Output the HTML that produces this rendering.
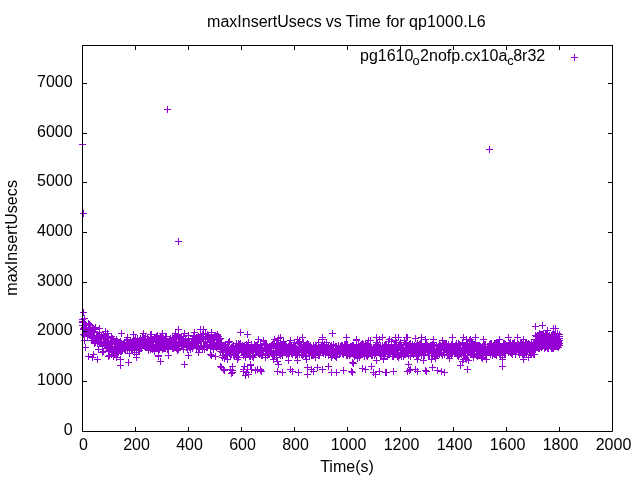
<!DOCTYPE html>
<html><head><meta charset="utf-8"><style>
html,body{margin:0;padding:0;background:#fff;width:640px;height:480px;overflow:hidden}
svg{display:block;will-change:transform}
text{font-family:"Liberation Sans",sans-serif;font-size:16px;fill:#000}
</style></head><body>
<svg width="640" height="480" viewBox="0 0 640 480">
<rect width="640" height="480" fill="#fff"/>
<path d="M79 322.5h7M82.5 319v7M79 319.5h7M82.5 316v7M80 329.5h7M83.5 326v7M80 334.5h7M83.5 331v7M80 328.5h7M83.5 325v7M80 322.5h7M83.5 319v7M81 340.5h7M84.5 337v7M81 327.5h7M84.5 324v7M81 325.5h7M84.5 322v7M81 335.5h7M84.5 332v7M82 333.5h7M85.5 330v7M82 325.5h7M85.5 322v7M82 328.5h7M85.5 325v7M82 324.5h7M85.5 321v7M83 333.5h7M86.5 330v7M83 331.5h7M86.5 328v7M83 325.5h7M86.5 322v7M84 330.5h7M87.5 327v7M84 330.5h7M87.5 327v7M84 336.5h7M87.5 333v7M84 332.5h7M87.5 329v7M85 329.5h7M88.5 326v7M85 334.5h7M88.5 331v7M85 331.5h7M88.5 328v7M85 327.5h7M88.5 324v7M86 324.5h7M89.5 321v7M86 328.5h7M89.5 325v7M86 335.5h7M89.5 332v7M86 329.5h7M89.5 326v7M87 330.5h7M90.5 327v7M87 325.5h7M90.5 322v7M87 333.5h7M90.5 330v7M87 327.5h7M90.5 324v7M88 340.5h7M91.5 337v7M88 330.5h7M91.5 327v7M88 335.5h7M91.5 332v7M89 335.5h7M92.5 332v7M89 331.5h7M92.5 328v7M89 337.5h7M92.5 334v7M89 328.5h7M92.5 325v7M90 338.5h7M93.5 335v7M90 332.5h7M93.5 329v7M90 328.5h7M93.5 325v7M90 340.5h7M93.5 337v7M91 331.5h7M94.5 328v7M91 329.5h7M94.5 326v7M91 343.5h7M94.5 340v7M91 331.5h7M94.5 328v7M92 342.5h7M95.5 339v7M92 341.5h7M95.5 338v7M92 329.5h7M95.5 326v7M93 338.5h7M96.5 335v7M93 336.5h7M96.5 333v7M93 340.5h7M96.5 337v7M93 338.5h7M96.5 335v7M94 338.5h7M97.5 335v7M94 343.5h7M97.5 340v7M94 339.5h7M97.5 336v7M94 336.5h7M97.5 333v7M95 349.5h7M98.5 346v7M95 335.5h7M98.5 332v7M95 341.5h7M98.5 338v7M95 336.5h7M98.5 333v7M96 332.5h7M99.5 329v7M96 342.5h7M99.5 339v7M96 334.5h7M99.5 331v7M96 343.5h7M99.5 340v7M97 338.5h7M100.5 335v7M97 337.5h7M100.5 334v7M97 343.5h7M100.5 340v7M98 339.5h7M101.5 336v7M98 338.5h7M101.5 335v7M98 343.5h7M101.5 340v7M98 335.5h7M101.5 332v7M99 346.5h7M102.5 343v7M99 345.5h7M102.5 342v7M99 352.5h7M102.5 349v7M99 346.5h7M102.5 343v7M100 341.5h7M103.5 338v7M100 334.5h7M103.5 331v7M100 351.5h7M103.5 348v7M100 337.5h7M103.5 334v7M101 345.5h7M104.5 342v7M101 343.5h7M104.5 340v7M101 336.5h7M104.5 333v7M102 331.5h7M105.5 328v7M102 344.5h7M105.5 341v7M102 338.5h7M105.5 335v7M102 342.5h7M105.5 339v7M103 338.5h7M106.5 335v7M103 344.5h7M106.5 341v7M103 341.5h7M106.5 338v7M103 341.5h7M106.5 338v7M104 333.5h7M107.5 330v7M104 345.5h7M107.5 342v7M104 348.5h7M107.5 345v7M104 342.5h7M107.5 339v7M105 340.5h7M108.5 337v7M105 337.5h7M108.5 334v7M105 345.5h7M108.5 342v7M105 350.5h7M108.5 347v7M106 355.5h7M109.5 352v7M106 344.5h7M109.5 341v7M106 349.5h7M109.5 346v7M107 344.5h7M110.5 341v7M107 344.5h7M110.5 341v7M107 349.5h7M110.5 346v7M107 346.5h7M110.5 343v7M108 350.5h7M111.5 347v7M108 354.5h7M111.5 351v7M108 336.5h7M111.5 333v7M108 340.5h7M111.5 337v7M109 344.5h7M112.5 341v7M109 352.5h7M112.5 349v7M109 338.5h7M112.5 335v7M109 344.5h7M112.5 341v7M110 356.5h7M113.5 353v7M110 350.5h7M113.5 347v7M110 339.5h7M113.5 336v7M111 348.5h7M114.5 345v7M111 343.5h7M114.5 340v7M111 352.5h7M114.5 349v7M111 347.5h7M114.5 344v7M112 343.5h7M115.5 340v7M112 353.5h7M115.5 350v7M112 346.5h7M115.5 343v7M112 341.5h7M115.5 338v7M113 349.5h7M116.5 346v7M113 339.5h7M116.5 336v7M113 350.5h7M116.5 347v7M113 349.5h7M116.5 346v7M114 341.5h7M117.5 338v7M114 353.5h7M117.5 350v7M114 342.5h7M117.5 339v7M115 352.5h7M118.5 349v7M115 351.5h7M118.5 348v7M115 344.5h7M118.5 341v7M115 342.5h7M118.5 339v7M116 348.5h7M119.5 345v7M116 342.5h7M119.5 339v7M116 350.5h7M119.5 347v7M116 345.5h7M119.5 342v7M117 341.5h7M120.5 338v7M117 351.5h7M120.5 348v7M117 344.5h7M120.5 341v7M117 341.5h7M120.5 338v7M118 343.5h7M121.5 340v7M118 351.5h7M121.5 348v7M118 346.5h7M121.5 343v7M118 346.5h7M121.5 343v7M119 350.5h7M122.5 347v7M119 348.5h7M122.5 345v7M119 345.5h7M122.5 342v7M120 348.5h7M123.5 345v7M120 345.5h7M123.5 342v7M120 344.5h7M123.5 341v7M120 346.5h7M123.5 343v7M121 344.5h7M124.5 341v7M121 349.5h7M124.5 346v7M121 348.5h7M124.5 345v7M121 342.5h7M124.5 339v7M122 346.5h7M125.5 343v7M122 345.5h7M125.5 342v7M122 349.5h7M125.5 346v7M122 350.5h7M125.5 347v7M123 340.5h7M126.5 337v7M123 347.5h7M126.5 344v7M123 344.5h7M126.5 341v7M124 339.5h7M127.5 336v7M124 350.5h7M127.5 347v7M124 340.5h7M127.5 337v7M124 337.5h7M127.5 334v7M125 343.5h7M128.5 340v7M125 343.5h7M128.5 340v7M125 346.5h7M128.5 343v7M125 345.5h7M128.5 342v7M126 349.5h7M129.5 346v7M126 344.5h7M129.5 341v7M126 342.5h7M129.5 339v7M126 353.5h7M129.5 350v7M127 344.5h7M130.5 341v7M127 341.5h7M130.5 338v7M127 345.5h7M130.5 342v7M127 340.5h7M130.5 337v7M128 350.5h7M131.5 347v7M128 348.5h7M131.5 345v7M128 342.5h7M131.5 339v7M129 348.5h7M132.5 345v7M129 343.5h7M132.5 340v7M129 342.5h7M132.5 339v7M129 345.5h7M132.5 342v7M130 346.5h7M133.5 343v7M130 340.5h7M133.5 337v7M130 345.5h7M133.5 342v7M130 340.5h7M133.5 337v7M131 352.5h7M134.5 349v7M131 342.5h7M134.5 339v7M131 340.5h7M134.5 337v7M131 346.5h7M134.5 343v7M132 338.5h7M135.5 335v7M132 346.5h7M135.5 343v7M132 343.5h7M135.5 340v7M133 350.5h7M136.5 347v7M133 354.5h7M136.5 351v7M133 341.5h7M136.5 338v7M133 349.5h7M136.5 346v7M134 343.5h7M137.5 340v7M134 338.5h7M137.5 335v7M134 339.5h7M137.5 336v7M134 342.5h7M137.5 339v7M135 350.5h7M138.5 347v7M135 343.5h7M138.5 340v7M135 341.5h7M138.5 338v7M135 347.5h7M138.5 344v7M136 341.5h7M139.5 338v7M136 350.5h7M139.5 347v7M136 344.5h7M139.5 341v7M137 341.5h7M140.5 338v7M137 338.5h7M140.5 335v7M137 348.5h7M140.5 345v7M137 342.5h7M140.5 339v7M138 348.5h7M141.5 345v7M138 348.5h7M141.5 345v7M138 340.5h7M141.5 337v7M138 343.5h7M141.5 340v7M139 345.5h7M142.5 342v7M139 337.5h7M142.5 334v7M139 342.5h7M142.5 339v7M139 339.5h7M142.5 336v7M140 333.5h7M143.5 330v7M140 343.5h7M143.5 340v7M140 338.5h7M143.5 335v7M140 344.5h7M143.5 341v7M141 338.5h7M144.5 335v7M141 346.5h7M144.5 343v7M141 344.5h7M144.5 341v7M142 339.5h7M145.5 336v7M142 347.5h7M145.5 344v7M142 344.5h7M145.5 341v7M142 336.5h7M145.5 333v7M143 346.5h7M146.5 343v7M143 342.5h7M146.5 339v7M143 345.5h7M146.5 342v7M143 345.5h7M146.5 342v7M144 339.5h7M147.5 336v7M144 346.5h7M147.5 343v7M144 340.5h7M147.5 337v7M144 338.5h7M147.5 335v7M145 345.5h7M148.5 342v7M145 350.5h7M148.5 347v7M145 350.5h7M148.5 347v7M146 343.5h7M149.5 340v7M146 347.5h7M149.5 344v7M146 347.5h7M149.5 344v7M146 341.5h7M149.5 338v7M147 349.5h7M150.5 346v7M147 343.5h7M150.5 340v7M147 341.5h7M150.5 338v7M147 334.5h7M150.5 331v7M148 337.5h7M151.5 334v7M148 338.5h7M151.5 335v7M148 344.5h7M151.5 341v7M148 334.5h7M151.5 331v7M149 345.5h7M152.5 342v7M149 339.5h7M152.5 336v7M149 341.5h7M152.5 338v7M149 349.5h7M152.5 346v7M150 344.5h7M153.5 341v7M150 347.5h7M153.5 344v7M150 344.5h7M153.5 341v7M151 348.5h7M154.5 345v7M151 347.5h7M154.5 344v7M151 338.5h7M154.5 335v7M151 351.5h7M154.5 348v7M152 341.5h7M155.5 338v7M152 342.5h7M155.5 339v7M152 337.5h7M155.5 334v7M152 346.5h7M155.5 343v7M153 336.5h7M156.5 333v7M153 336.5h7M156.5 333v7M153 340.5h7M156.5 337v7M153 348.5h7M156.5 345v7M154 341.5h7M157.5 338v7M154 335.5h7M157.5 332v7M154 345.5h7M157.5 342v7M155 342.5h7M158.5 339v7M155 355.5h7M158.5 352v7M155 350.5h7M158.5 347v7M155 341.5h7M158.5 338v7M156 338.5h7M159.5 335v7M156 345.5h7M159.5 342v7M156 340.5h7M159.5 337v7M156 349.5h7M159.5 346v7M157 339.5h7M160.5 336v7M157 339.5h7M160.5 336v7M157 344.5h7M160.5 341v7M157 336.5h7M160.5 333v7M158 338.5h7M161.5 335v7M158 344.5h7M161.5 341v7M158 337.5h7M161.5 334v7M159 343.5h7M162.5 340v7M159 337.5h7M162.5 334v7M159 349.5h7M162.5 346v7M159 348.5h7M162.5 345v7M160 338.5h7M163.5 335v7M160 344.5h7M163.5 341v7M160 340.5h7M163.5 337v7M160 348.5h7M163.5 345v7M161 346.5h7M164.5 343v7M161 342.5h7M164.5 339v7M161 348.5h7M164.5 345v7M161 342.5h7M164.5 339v7M162 348.5h7M165.5 345v7M162 336.5h7M165.5 333v7M162 341.5h7M165.5 338v7M162 338.5h7M165.5 335v7M163 342.5h7M166.5 339v7M163 338.5h7M166.5 335v7M163 336.5h7M166.5 333v7M164 345.5h7M167.5 342v7M164 347.5h7M167.5 344v7M164 349.5h7M167.5 346v7M164 341.5h7M167.5 338v7M165 349.5h7M168.5 346v7M165 346.5h7M168.5 343v7M165 342.5h7M168.5 339v7M165 343.5h7M168.5 340v7M166 341.5h7M169.5 338v7M166 339.5h7M169.5 336v7M166 346.5h7M169.5 343v7M166 339.5h7M169.5 336v7M167 344.5h7M170.5 341v7M167 340.5h7M170.5 337v7M167 338.5h7M170.5 335v7M168 343.5h7M171.5 340v7M168 342.5h7M171.5 339v7M168 346.5h7M171.5 343v7M168 344.5h7M171.5 341v7M169 337.5h7M172.5 334v7M169 348.5h7M172.5 345v7M169 340.5h7M172.5 337v7M169 340.5h7M172.5 337v7M170 348.5h7M173.5 345v7M170 338.5h7M173.5 335v7M170 338.5h7M173.5 335v7M170 341.5h7M173.5 338v7M171 337.5h7M174.5 334v7M171 346.5h7M174.5 343v7M171 342.5h7M174.5 339v7M171 347.5h7M174.5 344v7M172 343.5h7M175.5 340v7M172 341.5h7M175.5 338v7M172 333.5h7M175.5 330v7M173 342.5h7M176.5 339v7M173 341.5h7M176.5 338v7M173 348.5h7M176.5 345v7M173 337.5h7M176.5 334v7M174 348.5h7M177.5 345v7M174 344.5h7M177.5 341v7M174 336.5h7M177.5 333v7M174 350.5h7M177.5 347v7M175 339.5h7M178.5 336v7M175 349.5h7M178.5 346v7M175 342.5h7M178.5 339v7M175 336.5h7M178.5 333v7M176 337.5h7M179.5 334v7M176 345.5h7M179.5 342v7M176 341.5h7M179.5 338v7M177 343.5h7M180.5 340v7M177 343.5h7M180.5 340v7M177 337.5h7M180.5 334v7M177 343.5h7M180.5 340v7M178 336.5h7M181.5 333v7M178 345.5h7M181.5 342v7M178 346.5h7M181.5 343v7M178 341.5h7M181.5 338v7M179 344.5h7M182.5 341v7M179 343.5h7M182.5 340v7M179 345.5h7M182.5 342v7M179 342.5h7M182.5 339v7M180 349.5h7M183.5 346v7M180 336.5h7M183.5 333v7M180 341.5h7M183.5 338v7M180 338.5h7M183.5 335v7M181 341.5h7M184.5 338v7M181 343.5h7M184.5 340v7M181 333.5h7M184.5 330v7M182 341.5h7M185.5 338v7M182 341.5h7M185.5 338v7M182 344.5h7M185.5 341v7M182 339.5h7M185.5 336v7M183 345.5h7M186.5 342v7M183 347.5h7M186.5 344v7M183 342.5h7M186.5 339v7M183 345.5h7M186.5 342v7M184 346.5h7M187.5 343v7M184 349.5h7M187.5 346v7M184 344.5h7M187.5 341v7M184 343.5h7M187.5 340v7M185 335.5h7M188.5 332v7M185 346.5h7M188.5 343v7M185 338.5h7M188.5 335v7M186 344.5h7M189.5 341v7M186 343.5h7M189.5 340v7M186 347.5h7M189.5 344v7M186 342.5h7M189.5 339v7M187 349.5h7M190.5 346v7M187 346.5h7M190.5 343v7M187 345.5h7M190.5 342v7M187 348.5h7M190.5 345v7M188 342.5h7M191.5 339v7M188 341.5h7M191.5 338v7M188 346.5h7M191.5 343v7M188 344.5h7M191.5 341v7M189 339.5h7M192.5 336v7M189 348.5h7M192.5 345v7M189 344.5h7M192.5 341v7M190 335.5h7M193.5 332v7M190 346.5h7M193.5 343v7M190 336.5h7M193.5 333v7M190 344.5h7M193.5 341v7M191 342.5h7M194.5 339v7M191 332.5h7M194.5 329v7M191 345.5h7M194.5 342v7M191 342.5h7M194.5 339v7M192 338.5h7M195.5 335v7M192 343.5h7M195.5 340v7M192 340.5h7M195.5 337v7M192 342.5h7M195.5 339v7M193 337.5h7M196.5 334v7M193 339.5h7M196.5 336v7M193 348.5h7M196.5 345v7M193 342.5h7M196.5 339v7M194 346.5h7M197.5 343v7M194 346.5h7M197.5 343v7M194 337.5h7M197.5 334v7M195 343.5h7M198.5 340v7M195 336.5h7M198.5 333v7M195 347.5h7M198.5 344v7M195 345.5h7M198.5 342v7M196 348.5h7M199.5 345v7M196 349.5h7M199.5 346v7M196 339.5h7M199.5 336v7M196 338.5h7M199.5 335v7M197 341.5h7M200.5 338v7M197 338.5h7M200.5 335v7M197 334.5h7M200.5 331v7M197 339.5h7M200.5 336v7M198 336.5h7M201.5 333v7M198 345.5h7M201.5 342v7M198 338.5h7M201.5 335v7M199 349.5h7M202.5 346v7M199 349.5h7M202.5 346v7M199 337.5h7M202.5 334v7M199 334.5h7M202.5 331v7M200 336.5h7M203.5 333v7M200 333.5h7M203.5 330v7M200 345.5h7M203.5 342v7M200 339.5h7M203.5 336v7M201 345.5h7M204.5 342v7M201 345.5h7M204.5 342v7M201 349.5h7M204.5 346v7M201 346.5h7M204.5 343v7M202 337.5h7M205.5 334v7M202 333.5h7M205.5 330v7M202 341.5h7M205.5 338v7M202 341.5h7M205.5 338v7M203 346.5h7M206.5 343v7M203 347.5h7M206.5 344v7M203 336.5h7M206.5 333v7M204 334.5h7M207.5 331v7M204 344.5h7M207.5 341v7M204 337.5h7M207.5 334v7M204 347.5h7M207.5 344v7M205 336.5h7M208.5 333v7M205 335.5h7M208.5 332v7M205 339.5h7M208.5 336v7M205 335.5h7M208.5 332v7M206 342.5h7M209.5 339v7M206 341.5h7M209.5 338v7M206 345.5h7M209.5 342v7M206 345.5h7M209.5 342v7M207 340.5h7M210.5 337v7M207 348.5h7M210.5 345v7M207 342.5h7M210.5 339v7M208 334.5h7M211.5 331v7M208 344.5h7M211.5 341v7M208 338.5h7M211.5 335v7M208 344.5h7M211.5 341v7M209 342.5h7M212.5 339v7M209 338.5h7M212.5 335v7M209 346.5h7M212.5 343v7M209 339.5h7M212.5 336v7M210 346.5h7M213.5 343v7M210 340.5h7M213.5 337v7M210 337.5h7M213.5 334v7M210 349.5h7M213.5 346v7M211 344.5h7M214.5 341v7M211 335.5h7M214.5 332v7M211 345.5h7M214.5 342v7M211 343.5h7M214.5 340v7M212 335.5h7M215.5 332v7M212 345.5h7M215.5 342v7M212 356.5h7M215.5 353v7M213 347.5h7M216.5 344v7M213 344.5h7M216.5 341v7M213 336.5h7M216.5 333v7M213 340.5h7M216.5 337v7M214 340.5h7M217.5 337v7M214 336.5h7M217.5 333v7M214 345.5h7M217.5 342v7M214 334.5h7M217.5 331v7M215 343.5h7M218.5 340v7M215 339.5h7M218.5 336v7M215 345.5h7M218.5 342v7M215 340.5h7M218.5 337v7M216 339.5h7M219.5 336v7M216 344.5h7M219.5 341v7M216 338.5h7M219.5 335v7M217 338.5h7M220.5 335v7M217 351.5h7M220.5 348v7M217 343.5h7M220.5 340v7M217 349.5h7M220.5 346v7M218 349.5h7M221.5 346v7M218 346.5h7M221.5 343v7M218 342.5h7M221.5 339v7M218 346.5h7M221.5 343v7M219 355.5h7M222.5 352v7M219 352.5h7M222.5 349v7M219 348.5h7M222.5 345v7M219 357.5h7M222.5 354v7M220 349.5h7M223.5 346v7M220 355.5h7M223.5 352v7M220 348.5h7M223.5 345v7M221 347.5h7M224.5 344v7M221 358.5h7M224.5 355v7M221 347.5h7M224.5 344v7M221 346.5h7M224.5 343v7M222 349.5h7M225.5 346v7M222 344.5h7M225.5 341v7M222 354.5h7M225.5 351v7M222 352.5h7M225.5 349v7M223 347.5h7M226.5 344v7M223 351.5h7M226.5 348v7M223 347.5h7M226.5 344v7M223 354.5h7M226.5 351v7M224 359.5h7M227.5 356v7M224 346.5h7M227.5 343v7M224 351.5h7M227.5 348v7M224 351.5h7M227.5 348v7M225 346.5h7M228.5 343v7M225 342.5h7M228.5 339v7M225 346.5h7M228.5 343v7M226 353.5h7M229.5 350v7M226 351.5h7M229.5 348v7M226 341.5h7M229.5 338v7M226 351.5h7M229.5 348v7M227 353.5h7M230.5 350v7M227 355.5h7M230.5 352v7M227 353.5h7M230.5 350v7M227 350.5h7M230.5 347v7M228 354.5h7M231.5 351v7M228 347.5h7M231.5 344v7M228 348.5h7M231.5 345v7M228 350.5h7M231.5 347v7M229 351.5h7M232.5 348v7M229 346.5h7M232.5 343v7M229 350.5h7M232.5 347v7M230 345.5h7M233.5 342v7M230 355.5h7M233.5 352v7M230 352.5h7M233.5 349v7M230 347.5h7M233.5 344v7M231 354.5h7M234.5 351v7M231 351.5h7M234.5 348v7M231 355.5h7M234.5 352v7M231 355.5h7M234.5 352v7M232 350.5h7M235.5 347v7M232 353.5h7M235.5 350v7M232 352.5h7M235.5 349v7M232 347.5h7M235.5 344v7M233 356.5h7M236.5 353v7M233 346.5h7M236.5 343v7M233 343.5h7M236.5 340v7M233 352.5h7M236.5 349v7M234 346.5h7M237.5 343v7M234 359.5h7M237.5 356v7M234 349.5h7M237.5 346v7M235 345.5h7M238.5 342v7M235 350.5h7M238.5 347v7M235 343.5h7M238.5 340v7M235 352.5h7M238.5 349v7M236 347.5h7M239.5 344v7M236 344.5h7M239.5 341v7M236 350.5h7M239.5 347v7M236 350.5h7M239.5 347v7M237 344.5h7M240.5 341v7M237 348.5h7M240.5 345v7M237 345.5h7M240.5 342v7M237 343.5h7M240.5 340v7M238 346.5h7M241.5 343v7M238 348.5h7M241.5 345v7M238 350.5h7M241.5 347v7M239 345.5h7M242.5 342v7M239 345.5h7M242.5 342v7M239 352.5h7M242.5 349v7M239 347.5h7M242.5 344v7M240 351.5h7M243.5 348v7M240 351.5h7M243.5 348v7M240 355.5h7M243.5 352v7M240 348.5h7M243.5 345v7M241 345.5h7M244.5 342v7M241 354.5h7M244.5 351v7M241 354.5h7M244.5 351v7M241 348.5h7M244.5 345v7M242 349.5h7M245.5 346v7M242 348.5h7M245.5 345v7M242 357.5h7M245.5 354v7M243 351.5h7M246.5 348v7M243 349.5h7M246.5 346v7M243 344.5h7M246.5 341v7M243 346.5h7M246.5 343v7M244 346.5h7M247.5 343v7M244 349.5h7M247.5 346v7M244 347.5h7M247.5 344v7M244 353.5h7M247.5 350v7M245 349.5h7M248.5 346v7M245 342.5h7M248.5 339v7M245 352.5h7M248.5 349v7M245 350.5h7M248.5 347v7M246 353.5h7M249.5 350v7M246 348.5h7M249.5 345v7M246 348.5h7M249.5 345v7M246 356.5h7M249.5 353v7M247 349.5h7M250.5 346v7M247 348.5h7M250.5 345v7M247 356.5h7M250.5 353v7M248 346.5h7M251.5 343v7M248 346.5h7M251.5 343v7M248 350.5h7M251.5 347v7M248 344.5h7M251.5 341v7M249 355.5h7M252.5 352v7M249 351.5h7M252.5 348v7M249 356.5h7M252.5 353v7M249 349.5h7M252.5 346v7M250 348.5h7M253.5 345v7M250 352.5h7M253.5 349v7M250 352.5h7M253.5 349v7M250 355.5h7M253.5 352v7M251 344.5h7M254.5 341v7M251 346.5h7M254.5 343v7M251 344.5h7M254.5 341v7M252 349.5h7M255.5 346v7M252 345.5h7M255.5 342v7M252 354.5h7M255.5 351v7M252 348.5h7M255.5 345v7M253 348.5h7M256.5 345v7M253 349.5h7M256.5 346v7M253 345.5h7M256.5 342v7M253 346.5h7M256.5 343v7M254 352.5h7M257.5 349v7M254 344.5h7M257.5 341v7M254 351.5h7M257.5 348v7M254 348.5h7M257.5 345v7M255 339.5h7M258.5 336v7M255 353.5h7M258.5 350v7M255 348.5h7M258.5 345v7M255 352.5h7M258.5 349v7M256 349.5h7M259.5 346v7M256 348.5h7M259.5 345v7M256 354.5h7M259.5 351v7M257 347.5h7M260.5 344v7M257 344.5h7M260.5 341v7M257 353.5h7M260.5 350v7M257 349.5h7M260.5 346v7M258 355.5h7M261.5 352v7M258 348.5h7M261.5 345v7M258 354.5h7M261.5 351v7M258 355.5h7M261.5 352v7M259 348.5h7M262.5 345v7M259 355.5h7M262.5 352v7M259 351.5h7M262.5 348v7M259 347.5h7M262.5 344v7M260 351.5h7M263.5 348v7M260 351.5h7M263.5 348v7M260 341.5h7M263.5 338v7M261 348.5h7M264.5 345v7M261 343.5h7M264.5 340v7M261 345.5h7M264.5 342v7M261 347.5h7M264.5 344v7M262 344.5h7M265.5 341v7M262 353.5h7M265.5 350v7M262 350.5h7M265.5 347v7M262 357.5h7M265.5 354v7M263 349.5h7M266.5 346v7M263 345.5h7M266.5 342v7M263 351.5h7M266.5 348v7M263 348.5h7M266.5 345v7M264 355.5h7M267.5 352v7M264 348.5h7M267.5 345v7M264 346.5h7M267.5 343v7M265 354.5h7M268.5 351v7M265 348.5h7M268.5 345v7M265 349.5h7M268.5 346v7M265 351.5h7M268.5 348v7M266 347.5h7M269.5 344v7M266 354.5h7M269.5 351v7M266 353.5h7M269.5 350v7M266 346.5h7M269.5 343v7M267 352.5h7M270.5 349v7M267 348.5h7M270.5 345v7M267 347.5h7M270.5 344v7M267 352.5h7M270.5 349v7M268 348.5h7M271.5 345v7M268 345.5h7M271.5 342v7M268 353.5h7M271.5 350v7M268 345.5h7M271.5 342v7M269 353.5h7M272.5 350v7M269 344.5h7M272.5 341v7M269 355.5h7M272.5 352v7M270 350.5h7M273.5 347v7M270 346.5h7M273.5 343v7M270 343.5h7M273.5 340v7M270 353.5h7M273.5 350v7M271 355.5h7M274.5 352v7M271 339.5h7M274.5 336v7M271 345.5h7M274.5 342v7M271 344.5h7M274.5 341v7M272 347.5h7M275.5 344v7M272 347.5h7M275.5 344v7M272 351.5h7M275.5 348v7M272 347.5h7M275.5 344v7M273 343.5h7M276.5 340v7M273 357.5h7M276.5 354v7M273 344.5h7M276.5 341v7M274 340.5h7M277.5 337v7M274 352.5h7M277.5 349v7M274 348.5h7M277.5 345v7M274 351.5h7M277.5 348v7M275 349.5h7M278.5 346v7M275 338.5h7M278.5 335v7M275 352.5h7M278.5 349v7M275 345.5h7M278.5 342v7M276 354.5h7M279.5 351v7M276 349.5h7M279.5 346v7M276 345.5h7M279.5 342v7M276 353.5h7M279.5 350v7M277 342.5h7M280.5 339v7M277 355.5h7M280.5 352v7M277 352.5h7M280.5 349v7M277 345.5h7M280.5 342v7M278 345.5h7M281.5 342v7M278 350.5h7M281.5 347v7M278 353.5h7M281.5 350v7M279 353.5h7M282.5 350v7M279 345.5h7M282.5 342v7M279 355.5h7M282.5 352v7M279 353.5h7M282.5 350v7M280 347.5h7M283.5 344v7M280 352.5h7M283.5 349v7M280 347.5h7M283.5 344v7M280 341.5h7M283.5 338v7M281 349.5h7M284.5 346v7M281 346.5h7M284.5 343v7M281 344.5h7M284.5 341v7M281 352.5h7M284.5 349v7M282 345.5h7M285.5 342v7M282 352.5h7M285.5 349v7M282 349.5h7M285.5 346v7M283 354.5h7M286.5 351v7M283 349.5h7M286.5 346v7M283 346.5h7M286.5 343v7M283 350.5h7M286.5 347v7M284 351.5h7M287.5 348v7M284 353.5h7M287.5 350v7M284 348.5h7M287.5 345v7M284 350.5h7M287.5 347v7M285 360.5h7M288.5 357v7M285 353.5h7M288.5 350v7M285 346.5h7M288.5 343v7M285 354.5h7M288.5 351v7M286 349.5h7M289.5 346v7M286 344.5h7M289.5 341v7M286 353.5h7M289.5 350v7M286 344.5h7M289.5 341v7M287 340.5h7M290.5 337v7M287 350.5h7M290.5 347v7M287 346.5h7M290.5 343v7M288 352.5h7M291.5 349v7M288 346.5h7M291.5 343v7M288 353.5h7M291.5 350v7M288 351.5h7M291.5 348v7M289 354.5h7M292.5 351v7M289 350.5h7M292.5 347v7M289 351.5h7M292.5 348v7M289 347.5h7M292.5 344v7M290 348.5h7M293.5 345v7M290 347.5h7M293.5 344v7M290 345.5h7M293.5 342v7M290 349.5h7M293.5 346v7M291 346.5h7M294.5 343v7M291 350.5h7M294.5 347v7M291 342.5h7M294.5 339v7M292 353.5h7M295.5 350v7M292 347.5h7M295.5 344v7M292 355.5h7M295.5 352v7M292 355.5h7M295.5 352v7M293 350.5h7M296.5 347v7M293 353.5h7M296.5 350v7M293 354.5h7M296.5 351v7M293 349.5h7M296.5 346v7M294 360.5h7M297.5 357v7M294 349.5h7M297.5 346v7M294 339.5h7M297.5 336v7M294 354.5h7M297.5 351v7M295 343.5h7M298.5 340v7M295 346.5h7M298.5 343v7M295 349.5h7M298.5 346v7M296 341.5h7M299.5 338v7M296 354.5h7M299.5 351v7M296 348.5h7M299.5 345v7M296 342.5h7M299.5 339v7M297 349.5h7M300.5 346v7M297 346.5h7M300.5 343v7M297 344.5h7M300.5 341v7M297 349.5h7M300.5 346v7M298 349.5h7M301.5 346v7M298 354.5h7M301.5 351v7M298 344.5h7M301.5 341v7M298 345.5h7M301.5 342v7M299 350.5h7M302.5 347v7M299 350.5h7M302.5 347v7M299 355.5h7M302.5 352v7M299 349.5h7M302.5 346v7M300 342.5h7M303.5 339v7M300 354.5h7M303.5 351v7M300 350.5h7M303.5 347v7M301 352.5h7M304.5 349v7M301 350.5h7M304.5 347v7M301 348.5h7M304.5 345v7M301 350.5h7M304.5 347v7M302 351.5h7M305.5 348v7M302 345.5h7M305.5 342v7M302 356.5h7M305.5 353v7M302 348.5h7M305.5 345v7M303 353.5h7M306.5 350v7M303 350.5h7M306.5 347v7M303 359.5h7M306.5 356v7M303 344.5h7M306.5 341v7M304 349.5h7M307.5 346v7M304 343.5h7M307.5 340v7M304 349.5h7M307.5 346v7M305 348.5h7M308.5 345v7M305 351.5h7M308.5 348v7M305 351.5h7M308.5 348v7M305 344.5h7M308.5 341v7M306 355.5h7M309.5 352v7M306 347.5h7M309.5 344v7M306 353.5h7M309.5 350v7M306 348.5h7M309.5 345v7M307 345.5h7M310.5 342v7M307 352.5h7M310.5 349v7M307 346.5h7M310.5 343v7M307 347.5h7M310.5 344v7M308 348.5h7M311.5 345v7M308 349.5h7M311.5 346v7M308 355.5h7M311.5 352v7M308 350.5h7M311.5 347v7M309 355.5h7M312.5 352v7M309 355.5h7M312.5 352v7M309 348.5h7M312.5 345v7M310 345.5h7M313.5 342v7M310 355.5h7M313.5 352v7M310 348.5h7M313.5 345v7M310 352.5h7M313.5 349v7M311 347.5h7M314.5 344v7M311 353.5h7M314.5 350v7M311 352.5h7M314.5 349v7M311 347.5h7M314.5 344v7M312 345.5h7M315.5 342v7M312 351.5h7M315.5 348v7M312 357.5h7M315.5 354v7M312 351.5h7M315.5 348v7M313 349.5h7M316.5 346v7M313 345.5h7M316.5 342v7M313 351.5h7M316.5 348v7M314 350.5h7M317.5 347v7M314 352.5h7M317.5 349v7M314 348.5h7M317.5 345v7M314 348.5h7M317.5 345v7M315 355.5h7M318.5 352v7M315 350.5h7M318.5 347v7M315 342.5h7M318.5 339v7M315 347.5h7M318.5 344v7M316 348.5h7M319.5 345v7M316 355.5h7M319.5 352v7M316 349.5h7M319.5 346v7M316 353.5h7M319.5 350v7M317 350.5h7M320.5 347v7M317 347.5h7M320.5 344v7M317 352.5h7M320.5 349v7M317 351.5h7M320.5 348v7M318 347.5h7M321.5 344v7M318 349.5h7M321.5 346v7M318 346.5h7M321.5 343v7M319 346.5h7M322.5 343v7M319 348.5h7M322.5 345v7M319 339.5h7M322.5 336v7M319 344.5h7M322.5 341v7M320 349.5h7M323.5 346v7M320 347.5h7M323.5 344v7M320 353.5h7M323.5 350v7M320 345.5h7M323.5 342v7M321 344.5h7M324.5 341v7M321 348.5h7M324.5 345v7M321 344.5h7M324.5 341v7M321 351.5h7M324.5 348v7M322 351.5h7M325.5 348v7M322 354.5h7M325.5 351v7M322 350.5h7M325.5 347v7M323 342.5h7M326.5 339v7M323 351.5h7M326.5 348v7M323 351.5h7M326.5 348v7M323 345.5h7M326.5 342v7M324 351.5h7M327.5 348v7M324 347.5h7M327.5 344v7M324 347.5h7M327.5 344v7M324 348.5h7M327.5 345v7M325 349.5h7M328.5 346v7M325 355.5h7M328.5 352v7M325 352.5h7M328.5 349v7M325 346.5h7M328.5 343v7M326 349.5h7M329.5 346v7M326 349.5h7M329.5 346v7M326 352.5h7M329.5 349v7M327 353.5h7M330.5 350v7M327 346.5h7M330.5 343v7M327 351.5h7M330.5 348v7M327 350.5h7M330.5 347v7M328 353.5h7M331.5 350v7M328 352.5h7M331.5 349v7M328 345.5h7M331.5 342v7M328 357.5h7M331.5 354v7M329 352.5h7M332.5 349v7M329 355.5h7M332.5 352v7M329 354.5h7M332.5 351v7M329 349.5h7M332.5 346v7M330 345.5h7M333.5 342v7M330 353.5h7M333.5 350v7M330 346.5h7M333.5 343v7M330 344.5h7M333.5 341v7M331 351.5h7M334.5 348v7M331 355.5h7M334.5 352v7M331 351.5h7M334.5 348v7M332 346.5h7M335.5 343v7M332 351.5h7M335.5 348v7M332 349.5h7M335.5 346v7M332 356.5h7M335.5 353v7M333 357.5h7M336.5 354v7M333 346.5h7M336.5 343v7M333 356.5h7M336.5 353v7M333 348.5h7M336.5 345v7M334 349.5h7M337.5 346v7M334 354.5h7M337.5 351v7M334 349.5h7M337.5 346v7M334 348.5h7M337.5 345v7M335 350.5h7M338.5 347v7M335 345.5h7M338.5 342v7M335 351.5h7M338.5 348v7M336 352.5h7M339.5 349v7M336 354.5h7M339.5 351v7M336 354.5h7M339.5 351v7M336 350.5h7M339.5 347v7M337 346.5h7M340.5 343v7M337 348.5h7M340.5 345v7M337 347.5h7M340.5 344v7M337 353.5h7M340.5 350v7M338 349.5h7M341.5 346v7M338 345.5h7M341.5 342v7M338 350.5h7M341.5 347v7M338 349.5h7M341.5 346v7M339 345.5h7M342.5 342v7M339 350.5h7M342.5 347v7M339 348.5h7M342.5 345v7M339 353.5h7M342.5 350v7M340 351.5h7M343.5 348v7M340 354.5h7M343.5 351v7M340 351.5h7M343.5 348v7M341 349.5h7M344.5 346v7M341 344.5h7M344.5 341v7M341 347.5h7M344.5 344v7M341 349.5h7M344.5 346v7M342 351.5h7M345.5 348v7M342 349.5h7M345.5 346v7M342 344.5h7M345.5 341v7M342 351.5h7M345.5 348v7M343 355.5h7M346.5 352v7M343 344.5h7M346.5 341v7M343 352.5h7M346.5 349v7M343 347.5h7M346.5 344v7M344 355.5h7M347.5 352v7M344 348.5h7M347.5 345v7M344 344.5h7M347.5 341v7M345 351.5h7M348.5 348v7M345 347.5h7M348.5 344v7M345 353.5h7M348.5 350v7M345 352.5h7M348.5 349v7M346 355.5h7M349.5 352v7M346 349.5h7M349.5 346v7M346 350.5h7M349.5 347v7M346 353.5h7M349.5 350v7M347 350.5h7M350.5 347v7M347 354.5h7M350.5 351v7M347 351.5h7M350.5 348v7M347 346.5h7M350.5 343v7M348 352.5h7M351.5 349v7M348 353.5h7M351.5 350v7M348 346.5h7M351.5 343v7M349 352.5h7M352.5 349v7M349 349.5h7M352.5 346v7M349 345.5h7M352.5 342v7M349 350.5h7M352.5 347v7M350 345.5h7M353.5 342v7M350 354.5h7M353.5 351v7M350 346.5h7M353.5 343v7M350 348.5h7M353.5 345v7M351 353.5h7M354.5 350v7M351 347.5h7M354.5 344v7M351 356.5h7M354.5 353v7M351 349.5h7M354.5 346v7M352 349.5h7M355.5 346v7M352 351.5h7M355.5 348v7M352 349.5h7M355.5 346v7M352 354.5h7M355.5 351v7M353 340.5h7M356.5 337v7M353 345.5h7M356.5 342v7M353 355.5h7M356.5 352v7M354 351.5h7M357.5 348v7M354 348.5h7M357.5 345v7M354 358.5h7M357.5 355v7M354 351.5h7M357.5 348v7M355 346.5h7M358.5 343v7M355 355.5h7M358.5 352v7M355 350.5h7M358.5 347v7M355 344.5h7M358.5 341v7M356 350.5h7M359.5 347v7M356 346.5h7M359.5 343v7M356 357.5h7M359.5 354v7M356 349.5h7M359.5 346v7M357 355.5h7M360.5 352v7M357 353.5h7M360.5 350v7M357 345.5h7M360.5 342v7M358 353.5h7M361.5 350v7M358 351.5h7M361.5 348v7M358 344.5h7M361.5 341v7M358 350.5h7M361.5 347v7M359 345.5h7M362.5 342v7M359 343.5h7M362.5 340v7M359 353.5h7M362.5 350v7M359 348.5h7M362.5 345v7M360 344.5h7M363.5 341v7M360 348.5h7M363.5 345v7M360 353.5h7M363.5 350v7M360 352.5h7M363.5 349v7M361 350.5h7M364.5 347v7M361 356.5h7M364.5 353v7M361 350.5h7M364.5 347v7M361 346.5h7M364.5 343v7M362 351.5h7M365.5 348v7M362 347.5h7M365.5 344v7M362 344.5h7M365.5 341v7M363 348.5h7M366.5 345v7M363 345.5h7M366.5 342v7M363 355.5h7M366.5 352v7M363 352.5h7M366.5 349v7M364 344.5h7M367.5 341v7M364 356.5h7M367.5 353v7M364 347.5h7M367.5 344v7M364 352.5h7M367.5 349v7M365 354.5h7M368.5 351v7M365 345.5h7M368.5 342v7M365 340.5h7M368.5 337v7M365 351.5h7M368.5 348v7M366 346.5h7M369.5 343v7M366 349.5h7M369.5 346v7M366 347.5h7M369.5 344v7M367 352.5h7M370.5 349v7M367 350.5h7M370.5 347v7M367 340.5h7M370.5 337v7M367 353.5h7M370.5 350v7M368 347.5h7M371.5 344v7M368 355.5h7M371.5 352v7M368 347.5h7M371.5 344v7M368 348.5h7M371.5 345v7M369 355.5h7M372.5 352v7M369 349.5h7M372.5 346v7M369 355.5h7M372.5 352v7M369 352.5h7M372.5 349v7M370 347.5h7M373.5 344v7M370 352.5h7M373.5 349v7M370 352.5h7M373.5 349v7M371 355.5h7M374.5 352v7M371 353.5h7M374.5 350v7M371 349.5h7M374.5 346v7M371 352.5h7M374.5 349v7M372 353.5h7M375.5 350v7M372 348.5h7M375.5 345v7M372 351.5h7M375.5 348v7M372 346.5h7M375.5 343v7M373 345.5h7M376.5 342v7M373 352.5h7M376.5 349v7M373 342.5h7M376.5 339v7M373 360.5h7M376.5 357v7M374 350.5h7M377.5 347v7M374 344.5h7M377.5 341v7M374 342.5h7M377.5 339v7M374 347.5h7M377.5 344v7M375 346.5h7M378.5 343v7M375 352.5h7M378.5 349v7M375 346.5h7M378.5 343v7M376 352.5h7M379.5 349v7M376 351.5h7M379.5 348v7M376 339.5h7M379.5 336v7M376 353.5h7M379.5 350v7M377 346.5h7M380.5 343v7M377 354.5h7M380.5 351v7M377 354.5h7M380.5 351v7M377 346.5h7M380.5 343v7M378 354.5h7M381.5 351v7M378 348.5h7M381.5 345v7M378 354.5h7M381.5 351v7M378 351.5h7M381.5 348v7M379 345.5h7M382.5 342v7M379 353.5h7M382.5 350v7M379 351.5h7M382.5 348v7M380 358.5h7M383.5 355v7M380 350.5h7M383.5 347v7M380 351.5h7M383.5 348v7M380 359.5h7M383.5 356v7M381 353.5h7M384.5 350v7M381 345.5h7M384.5 342v7M381 354.5h7M384.5 351v7M381 347.5h7M384.5 344v7M382 345.5h7M385.5 342v7M382 352.5h7M385.5 349v7M382 349.5h7M385.5 346v7M382 346.5h7M385.5 343v7M383 349.5h7M386.5 346v7M383 346.5h7M386.5 343v7M383 344.5h7M386.5 341v7M383 349.5h7M386.5 346v7M384 356.5h7M387.5 353v7M384 351.5h7M387.5 348v7M384 347.5h7M387.5 344v7M385 354.5h7M388.5 351v7M385 347.5h7M388.5 344v7M385 341.5h7M388.5 338v7M385 350.5h7M388.5 347v7M386 347.5h7M389.5 344v7M386 354.5h7M389.5 351v7M386 349.5h7M389.5 346v7M386 339.5h7M389.5 336v7M387 352.5h7M390.5 349v7M387 352.5h7M390.5 349v7M387 347.5h7M390.5 344v7M387 349.5h7M390.5 346v7M388 341.5h7M391.5 338v7M388 344.5h7M391.5 341v7M388 350.5h7M391.5 347v7M389 347.5h7M392.5 344v7M389 356.5h7M392.5 353v7M389 349.5h7M392.5 346v7M389 354.5h7M392.5 351v7M390 353.5h7M393.5 350v7M390 356.5h7M393.5 353v7M390 352.5h7M393.5 349v7M390 348.5h7M393.5 345v7M391 354.5h7M394.5 351v7M391 354.5h7M394.5 351v7M391 350.5h7M394.5 347v7M391 344.5h7M394.5 341v7M392 350.5h7M395.5 347v7M392 345.5h7M395.5 342v7M392 340.5h7M395.5 337v7M392 347.5h7M395.5 344v7M393 347.5h7M396.5 344v7M393 348.5h7M396.5 345v7M393 342.5h7M396.5 339v7M394 353.5h7M397.5 350v7M394 352.5h7M397.5 349v7M394 347.5h7M397.5 344v7M394 356.5h7M397.5 353v7M395 346.5h7M398.5 343v7M395 347.5h7M398.5 344v7M395 355.5h7M398.5 352v7M395 348.5h7M398.5 345v7M396 355.5h7M399.5 352v7M396 345.5h7M399.5 342v7M396 344.5h7M399.5 341v7M396 355.5h7M399.5 352v7M397 349.5h7M400.5 346v7M397 342.5h7M400.5 339v7M397 349.5h7M400.5 346v7M398 349.5h7M401.5 346v7M398 354.5h7M401.5 351v7M398 345.5h7M401.5 342v7M398 356.5h7M401.5 353v7M399 350.5h7M402.5 347v7M399 348.5h7M402.5 345v7M399 352.5h7M402.5 349v7M399 350.5h7M402.5 347v7M400 348.5h7M403.5 345v7M400 351.5h7M403.5 348v7M400 345.5h7M403.5 342v7M400 355.5h7M403.5 352v7M401 351.5h7M404.5 348v7M401 340.5h7M404.5 337v7M401 354.5h7M404.5 351v7M402 351.5h7M405.5 348v7M402 354.5h7M405.5 351v7M402 351.5h7M405.5 348v7M402 344.5h7M405.5 341v7M403 353.5h7M406.5 350v7M403 350.5h7M406.5 347v7M403 344.5h7M406.5 341v7M403 352.5h7M406.5 349v7M404 345.5h7M407.5 342v7M404 347.5h7M407.5 344v7M404 348.5h7M407.5 345v7M404 350.5h7M407.5 347v7M405 351.5h7M408.5 348v7M405 349.5h7M408.5 346v7M405 345.5h7M408.5 342v7M405 355.5h7M408.5 352v7M406 348.5h7M409.5 345v7M406 344.5h7M409.5 341v7M406 349.5h7M409.5 346v7M407 356.5h7M410.5 353v7M407 343.5h7M410.5 340v7M407 346.5h7M410.5 343v7M407 346.5h7M410.5 343v7M408 349.5h7M411.5 346v7M408 349.5h7M411.5 346v7M408 353.5h7M411.5 350v7M408 352.5h7M411.5 349v7M409 344.5h7M412.5 341v7M409 352.5h7M412.5 349v7M409 346.5h7M412.5 343v7M409 344.5h7M412.5 341v7M410 354.5h7M413.5 351v7M410 349.5h7M413.5 346v7M410 354.5h7M413.5 351v7M411 346.5h7M414.5 343v7M411 345.5h7M414.5 342v7M411 353.5h7M414.5 350v7M411 347.5h7M414.5 344v7M412 352.5h7M415.5 349v7M412 350.5h7M415.5 347v7M412 347.5h7M415.5 344v7M412 338.5h7M415.5 335v7M413 350.5h7M416.5 347v7M413 356.5h7M416.5 353v7M413 351.5h7M416.5 348v7M413 345.5h7M416.5 342v7M414 359.5h7M417.5 356v7M414 352.5h7M417.5 349v7M414 343.5h7M417.5 340v7M414 353.5h7M417.5 350v7M415 345.5h7M418.5 342v7M415 354.5h7M418.5 351v7M415 355.5h7M418.5 352v7M416 348.5h7M419.5 345v7M416 344.5h7M419.5 341v7M416 351.5h7M419.5 348v7M416 345.5h7M419.5 342v7M417 350.5h7M420.5 347v7M417 350.5h7M420.5 347v7M417 343.5h7M420.5 340v7M417 349.5h7M420.5 346v7M418 354.5h7M421.5 351v7M418 354.5h7M421.5 351v7M418 344.5h7M421.5 341v7M418 355.5h7M421.5 352v7M419 350.5h7M422.5 347v7M419 347.5h7M422.5 344v7M419 351.5h7M422.5 348v7M420 352.5h7M423.5 349v7M420 355.5h7M423.5 352v7M420 350.5h7M423.5 347v7M420 348.5h7M423.5 345v7M421 355.5h7M424.5 352v7M421 348.5h7M424.5 345v7M421 355.5h7M424.5 352v7M421 354.5h7M424.5 351v7M422 348.5h7M425.5 345v7M422 339.5h7M425.5 336v7M422 352.5h7M425.5 349v7M422 349.5h7M425.5 346v7M423 345.5h7M426.5 342v7M423 346.5h7M426.5 343v7M423 344.5h7M426.5 341v7M423 343.5h7M426.5 340v7M424 350.5h7M427.5 347v7M424 345.5h7M427.5 342v7M424 349.5h7M427.5 346v7M425 355.5h7M428.5 352v7M425 351.5h7M428.5 348v7M425 350.5h7M428.5 347v7M425 347.5h7M428.5 344v7M426 355.5h7M429.5 352v7M426 350.5h7M429.5 347v7M426 352.5h7M429.5 349v7M426 349.5h7M429.5 346v7M427 346.5h7M430.5 343v7M427 350.5h7M430.5 347v7M427 350.5h7M430.5 347v7M427 345.5h7M430.5 342v7M428 352.5h7M431.5 349v7M428 346.5h7M431.5 343v7M428 351.5h7M431.5 348v7M429 351.5h7M432.5 348v7M429 355.5h7M432.5 352v7M429 355.5h7M432.5 352v7M429 344.5h7M432.5 341v7M430 352.5h7M433.5 349v7M430 348.5h7M433.5 345v7M430 342.5h7M433.5 339v7M430 352.5h7M433.5 349v7M431 351.5h7M434.5 348v7M431 345.5h7M434.5 342v7M431 355.5h7M434.5 352v7M431 345.5h7M434.5 342v7M432 356.5h7M435.5 353v7M432 352.5h7M435.5 349v7M432 358.5h7M435.5 355v7M433 354.5h7M436.5 351v7M433 348.5h7M436.5 345v7M433 346.5h7M436.5 343v7M433 354.5h7M436.5 351v7M434 355.5h7M437.5 352v7M434 352.5h7M437.5 349v7M434 350.5h7M437.5 347v7M434 354.5h7M437.5 351v7M435 352.5h7M438.5 349v7M435 346.5h7M438.5 343v7M435 351.5h7M438.5 348v7M435 349.5h7M438.5 346v7M436 344.5h7M439.5 341v7M436 350.5h7M439.5 347v7M436 350.5h7M439.5 347v7M436 354.5h7M439.5 351v7M437 349.5h7M440.5 346v7M437 346.5h7M440.5 343v7M437 345.5h7M440.5 342v7M438 350.5h7M441.5 347v7M438 347.5h7M441.5 344v7M438 353.5h7M441.5 350v7M438 346.5h7M441.5 343v7M439 344.5h7M442.5 341v7M439 355.5h7M442.5 352v7M439 343.5h7M442.5 340v7M439 355.5h7M442.5 352v7M440 350.5h7M443.5 347v7M440 344.5h7M443.5 341v7M440 348.5h7M443.5 345v7M440 345.5h7M443.5 342v7M441 354.5h7M444.5 351v7M441 348.5h7M444.5 345v7M441 344.5h7M444.5 341v7M442 349.5h7M445.5 346v7M442 348.5h7M445.5 345v7M442 344.5h7M445.5 341v7M442 348.5h7M445.5 345v7M443 345.5h7M446.5 342v7M443 343.5h7M446.5 340v7M443 352.5h7M446.5 349v7M443 347.5h7M446.5 344v7M444 349.5h7M447.5 346v7M444 348.5h7M447.5 345v7M444 355.5h7M447.5 352v7M444 350.5h7M447.5 347v7M445 355.5h7M448.5 352v7M445 344.5h7M448.5 341v7M445 346.5h7M448.5 343v7M445 354.5h7M448.5 351v7M446 353.5h7M449.5 350v7M446 346.5h7M449.5 343v7M446 358.5h7M449.5 355v7M447 351.5h7M450.5 348v7M447 346.5h7M450.5 343v7M447 353.5h7M450.5 350v7M447 350.5h7M450.5 347v7M448 354.5h7M451.5 351v7M448 348.5h7M451.5 345v7M448 349.5h7M451.5 346v7M448 344.5h7M451.5 341v7M449 347.5h7M452.5 344v7M449 345.5h7M452.5 342v7M449 353.5h7M452.5 350v7M449 344.5h7M452.5 341v7M450 351.5h7M453.5 348v7M450 349.5h7M453.5 346v7M450 346.5h7M453.5 343v7M451 353.5h7M454.5 350v7M451 351.5h7M454.5 348v7M451 347.5h7M454.5 344v7M451 352.5h7M454.5 349v7M452 345.5h7M455.5 342v7M452 351.5h7M455.5 348v7M452 351.5h7M455.5 348v7M452 347.5h7M455.5 344v7M453 352.5h7M456.5 349v7M453 348.5h7M456.5 345v7M453 343.5h7M456.5 340v7M453 352.5h7M456.5 349v7M454 347.5h7M457.5 344v7M454 355.5h7M457.5 352v7M454 351.5h7M457.5 348v7M455 343.5h7M458.5 340v7M455 352.5h7M458.5 349v7M455 344.5h7M458.5 341v7M455 356.5h7M458.5 353v7M456 352.5h7M459.5 349v7M456 348.5h7M459.5 345v7M456 354.5h7M459.5 351v7M456 344.5h7M459.5 341v7M457 352.5h7M460.5 349v7M457 351.5h7M460.5 348v7M457 349.5h7M460.5 346v7M457 351.5h7M460.5 348v7M458 351.5h7M461.5 348v7M458 354.5h7M461.5 351v7M458 354.5h7M461.5 351v7M458 351.5h7M461.5 348v7M459 343.5h7M462.5 340v7M459 352.5h7M462.5 349v7M459 342.5h7M462.5 339v7M460 350.5h7M463.5 347v7M460 345.5h7M463.5 342v7M460 359.5h7M463.5 356v7M460 348.5h7M463.5 345v7M461 345.5h7M464.5 342v7M461 345.5h7M464.5 342v7M461 347.5h7M464.5 344v7M461 355.5h7M464.5 352v7M462 350.5h7M465.5 347v7M462 349.5h7M465.5 346v7M462 355.5h7M465.5 352v7M462 348.5h7M465.5 345v7M463 339.5h7M466.5 336v7M463 344.5h7M466.5 341v7M463 350.5h7M466.5 347v7M464 355.5h7M467.5 352v7M464 352.5h7M467.5 349v7M464 343.5h7M467.5 340v7M464 355.5h7M467.5 352v7M465 350.5h7M468.5 347v7M465 360.5h7M468.5 357v7M465 352.5h7M468.5 349v7M465 351.5h7M468.5 348v7M466 345.5h7M469.5 342v7M466 349.5h7M469.5 346v7M466 340.5h7M469.5 337v7M466 350.5h7M469.5 347v7M467 346.5h7M470.5 343v7M467 354.5h7M470.5 351v7M467 353.5h7M470.5 350v7M467 346.5h7M470.5 343v7M468 343.5h7M471.5 340v7M468 354.5h7M471.5 351v7M468 341.5h7M471.5 338v7M469 354.5h7M472.5 351v7M469 348.5h7M472.5 345v7M469 343.5h7M472.5 340v7M469 348.5h7M472.5 345v7M470 344.5h7M473.5 341v7M470 351.5h7M473.5 348v7M470 347.5h7M473.5 344v7M470 357.5h7M473.5 354v7M471 350.5h7M474.5 347v7M471 348.5h7M474.5 345v7M471 354.5h7M474.5 351v7M471 354.5h7M474.5 351v7M472 342.5h7M475.5 339v7M472 342.5h7M475.5 339v7M472 347.5h7M475.5 344v7M473 355.5h7M476.5 352v7M473 348.5h7M476.5 345v7M473 346.5h7M476.5 343v7M473 354.5h7M476.5 351v7M474 351.5h7M477.5 348v7M474 345.5h7M477.5 342v7M474 356.5h7M477.5 353v7M474 351.5h7M477.5 348v7M475 355.5h7M478.5 352v7M475 350.5h7M478.5 347v7M475 345.5h7M478.5 342v7M475 353.5h7M478.5 350v7M476 353.5h7M479.5 350v7M476 345.5h7M479.5 342v7M476 350.5h7M479.5 347v7M477 346.5h7M480.5 343v7M477 353.5h7M480.5 350v7M477 353.5h7M480.5 350v7M477 348.5h7M480.5 345v7M478 355.5h7M481.5 352v7M478 349.5h7M481.5 346v7M478 357.5h7M481.5 354v7M478 347.5h7M481.5 344v7M479 349.5h7M482.5 346v7M479 358.5h7M482.5 355v7M479 347.5h7M482.5 344v7M479 346.5h7M482.5 343v7M480 354.5h7M483.5 351v7M480 348.5h7M483.5 345v7M480 344.5h7M483.5 341v7M480 351.5h7M483.5 348v7M481 344.5h7M484.5 341v7M481 352.5h7M484.5 349v7M481 348.5h7M484.5 345v7M482 344.5h7M485.5 341v7M482 349.5h7M485.5 346v7M482 350.5h7M485.5 347v7M482 355.5h7M485.5 352v7M483 352.5h7M486.5 349v7M483 359.5h7M486.5 356v7M483 352.5h7M486.5 349v7M483 350.5h7M486.5 347v7M484 346.5h7M487.5 343v7M484 350.5h7M487.5 347v7M484 348.5h7M487.5 345v7M484 351.5h7M487.5 348v7M485 346.5h7M488.5 343v7M485 346.5h7M488.5 343v7M485 352.5h7M488.5 349v7M486 346.5h7M489.5 343v7M486 344.5h7M489.5 341v7M486 350.5h7M489.5 347v7M486 347.5h7M489.5 344v7M487 354.5h7M490.5 351v7M487 348.5h7M490.5 345v7M487 343.5h7M490.5 340v7M487 350.5h7M490.5 347v7M488 344.5h7M491.5 341v7M488 351.5h7M491.5 348v7M488 351.5h7M491.5 348v7M488 343.5h7M491.5 340v7M489 355.5h7M492.5 352v7M489 348.5h7M492.5 345v7M489 353.5h7M492.5 350v7M489 353.5h7M492.5 350v7M490 345.5h7M493.5 342v7M490 353.5h7M493.5 350v7M490 350.5h7M493.5 347v7M491 343.5h7M494.5 340v7M491 354.5h7M494.5 351v7M491 346.5h7M494.5 343v7M491 345.5h7M494.5 342v7M492 354.5h7M495.5 351v7M492 343.5h7M495.5 340v7M492 351.5h7M495.5 348v7M492 350.5h7M495.5 347v7M493 343.5h7M496.5 340v7M493 355.5h7M496.5 352v7M493 343.5h7M496.5 340v7M493 353.5h7M496.5 350v7M494 351.5h7M497.5 348v7M494 343.5h7M497.5 340v7M494 351.5h7M497.5 348v7M495 347.5h7M498.5 344v7M495 343.5h7M498.5 340v7M495 349.5h7M498.5 346v7M495 347.5h7M498.5 344v7M496 339.5h7M499.5 336v7M496 345.5h7M499.5 342v7M496 353.5h7M499.5 350v7M496 348.5h7M499.5 345v7M497 348.5h7M500.5 345v7M497 351.5h7M500.5 348v7M497 351.5h7M500.5 348v7M497 355.5h7M500.5 352v7M498 351.5h7M501.5 348v7M498 351.5h7M501.5 348v7M498 346.5h7M501.5 343v7M498 349.5h7M501.5 346v7M499 357.5h7M502.5 354v7M499 351.5h7M502.5 348v7M499 347.5h7M502.5 344v7M500 346.5h7M503.5 343v7M500 351.5h7M503.5 348v7M500 343.5h7M503.5 340v7M500 344.5h7M503.5 341v7M501 352.5h7M504.5 349v7M501 343.5h7M504.5 340v7M501 353.5h7M504.5 350v7M501 348.5h7M504.5 345v7M502 344.5h7M505.5 341v7M502 353.5h7M505.5 350v7M502 349.5h7M505.5 346v7M502 350.5h7M505.5 347v7M503 349.5h7M506.5 346v7M503 345.5h7M506.5 342v7M503 350.5h7M506.5 347v7M504 345.5h7M507.5 342v7M504 345.5h7M507.5 342v7M504 350.5h7M507.5 347v7M504 345.5h7M507.5 342v7M505 349.5h7M508.5 346v7M505 349.5h7M508.5 346v7M505 346.5h7M508.5 343v7M505 352.5h7M508.5 349v7M506 349.5h7M509.5 346v7M506 344.5h7M509.5 341v7M506 350.5h7M509.5 347v7M506 343.5h7M509.5 340v7M507 342.5h7M510.5 339v7M507 350.5h7M510.5 347v7M507 352.5h7M510.5 349v7M508 353.5h7M511.5 350v7M508 345.5h7M511.5 342v7M508 351.5h7M511.5 348v7M508 350.5h7M511.5 347v7M509 354.5h7M512.5 351v7M509 348.5h7M512.5 345v7M509 345.5h7M512.5 342v7M509 343.5h7M512.5 340v7M510 350.5h7M513.5 347v7M510 348.5h7M513.5 345v7M510 343.5h7M513.5 340v7M510 350.5h7M513.5 347v7M511 342.5h7M514.5 339v7M511 350.5h7M514.5 347v7M511 344.5h7M514.5 341v7M511 350.5h7M514.5 347v7M512 350.5h7M515.5 347v7M512 346.5h7M515.5 343v7M512 354.5h7M515.5 351v7M513 350.5h7M516.5 347v7M513 346.5h7M516.5 343v7M513 348.5h7M516.5 345v7M513 347.5h7M516.5 344v7M514 344.5h7M517.5 341v7M514 348.5h7M517.5 345v7M514 344.5h7M517.5 341v7M514 348.5h7M517.5 345v7M515 344.5h7M518.5 341v7M515 344.5h7M518.5 341v7M515 352.5h7M518.5 349v7M515 345.5h7M518.5 342v7M516 351.5h7M519.5 348v7M516 348.5h7M519.5 345v7M516 354.5h7M519.5 351v7M517 348.5h7M520.5 345v7M517 342.5h7M520.5 339v7M517 352.5h7M520.5 349v7M517 349.5h7M520.5 346v7M518 344.5h7M521.5 341v7M518 352.5h7M521.5 349v7M518 343.5h7M521.5 340v7M518 351.5h7M521.5 348v7M519 347.5h7M522.5 344v7M519 344.5h7M522.5 341v7M519 354.5h7M522.5 351v7M519 345.5h7M522.5 342v7M520 359.5h7M523.5 356v7M520 353.5h7M523.5 350v7M520 343.5h7M523.5 340v7M520 344.5h7M523.5 341v7M521 349.5h7M524.5 346v7M521 354.5h7M524.5 351v7M521 349.5h7M524.5 346v7M522 347.5h7M525.5 344v7M522 352.5h7M525.5 349v7M522 348.5h7M525.5 345v7M522 342.5h7M525.5 339v7M523 354.5h7M526.5 351v7M523 344.5h7M526.5 341v7M523 342.5h7M526.5 339v7M523 352.5h7M526.5 349v7M524 344.5h7M527.5 341v7M524 351.5h7M527.5 348v7M524 346.5h7M527.5 343v7M524 345.5h7M527.5 342v7M525 343.5h7M528.5 340v7M525 348.5h7M528.5 345v7M525 343.5h7M528.5 340v7M526 352.5h7M529.5 349v7M526 344.5h7M529.5 341v7M526 345.5h7M529.5 342v7M526 350.5h7M529.5 347v7M527 346.5h7M530.5 343v7M527 354.5h7M530.5 351v7M527 350.5h7M530.5 347v7M527 345.5h7M530.5 342v7M528 349.5h7M531.5 346v7M528 342.5h7M531.5 339v7M528 354.5h7M531.5 351v7M528 346.5h7M531.5 343v7M529 352.5h7M532.5 349v7M529 348.5h7M532.5 345v7M529 348.5h7M532.5 345v7M529 351.5h7M532.5 348v7M530 348.5h7M533.5 345v7M530 342.5h7M533.5 339v7M530 346.5h7M533.5 343v7M531 345.5h7M534.5 342v7M531 348.5h7M534.5 345v7M531 343.5h7M534.5 340v7M531 343.5h7M534.5 340v7M532 335.5h7M535.5 332v7M532 344.5h7M535.5 341v7M532 339.5h7M535.5 336v7M532 348.5h7M535.5 345v7M533 340.5h7M536.5 337v7M533 336.5h7M536.5 333v7M533 346.5h7M536.5 343v7M533 341.5h7M536.5 338v7M534 335.5h7M537.5 332v7M534 344.5h7M537.5 341v7M534 347.5h7M537.5 344v7M535 341.5h7M538.5 338v7M535 337.5h7M538.5 334v7M535 348.5h7M538.5 345v7M535 343.5h7M538.5 340v7M536 335.5h7M539.5 332v7M536 348.5h7M539.5 345v7M536 343.5h7M539.5 340v7M536 348.5h7M539.5 345v7M537 344.5h7M540.5 341v7M537 336.5h7M540.5 333v7M537 334.5h7M540.5 331v7M537 336.5h7M540.5 333v7M538 346.5h7M541.5 343v7M538 347.5h7M541.5 344v7M538 339.5h7M541.5 336v7M539 346.5h7M542.5 343v7M539 341.5h7M542.5 338v7M539 337.5h7M542.5 334v7M539 342.5h7M542.5 339v7M540 342.5h7M543.5 339v7M540 335.5h7M543.5 332v7M540 340.5h7M543.5 337v7M540 333.5h7M543.5 330v7M541 344.5h7M544.5 341v7M541 345.5h7M544.5 342v7M541 348.5h7M544.5 345v7M541 346.5h7M544.5 343v7M542 338.5h7M545.5 335v7M542 337.5h7M545.5 334v7M542 347.5h7M545.5 344v7M542 340.5h7M545.5 337v7M543 346.5h7M546.5 343v7M543 338.5h7M546.5 335v7M543 334.5h7M546.5 331v7M544 342.5h7M547.5 339v7M544 334.5h7M547.5 331v7M544 336.5h7M547.5 333v7M544 341.5h7M547.5 338v7M545 339.5h7M548.5 336v7M545 341.5h7M548.5 338v7M545 339.5h7M548.5 336v7M545 348.5h7M548.5 345v7M546 344.5h7M549.5 341v7M546 337.5h7M549.5 334v7M546 335.5h7M549.5 332v7M546 340.5h7M549.5 337v7M547 346.5h7M550.5 343v7M547 346.5h7M550.5 343v7M547 338.5h7M550.5 335v7M548 336.5h7M551.5 333v7M548 345.5h7M551.5 342v7M548 335.5h7M551.5 332v7M548 335.5h7M551.5 332v7M549 337.5h7M552.5 334v7M549 335.5h7M552.5 332v7M549 343.5h7M552.5 340v7M549 339.5h7M552.5 336v7M550 334.5h7M553.5 331v7M550 342.5h7M553.5 339v7M550 340.5h7M553.5 337v7M550 348.5h7M553.5 345v7M551 338.5h7M554.5 335v7M551 335.5h7M554.5 332v7M551 341.5h7M554.5 338v7M551 338.5h7M554.5 335v7M552 334.5h7M555.5 331v7M552 337.5h7M555.5 334v7M552 338.5h7M555.5 335v7M553 346.5h7M556.5 343v7M553 337.5h7M556.5 334v7M553 346.5h7M556.5 343v7M553 346.5h7M556.5 343v7M554 333.5h7M557.5 330v7M554 334.5h7M557.5 331v7M554 338.5h7M557.5 335v7M554 346.5h7M557.5 343v7M555 342.5h7M558.5 339v7M555 342.5h7M558.5 339v7M555 344.5h7M558.5 341v7M555 341.5h7M558.5 338v7M556 336.5h7M559.5 333v7M556 343.5h7M559.5 340v7M550 340.5h7M553.5 337v7M546 343.5h7M549.5 340v7M550 337.5h7M553.5 334v7M541 347.5h7M544.5 344v7M545 337.5h7M548.5 334v7M547 337.5h7M550.5 334v7M551 334.5h7M554.5 331v7M552 341.5h7M555.5 338v7M541 347.5h7M544.5 344v7M539 337.5h7M542.5 334v7M535 341.5h7M538.5 338v7M550 343.5h7M553.5 340v7M542 345.5h7M545.5 342v7M536 338.5h7M539.5 335v7M548 348.5h7M551.5 345v7M548 343.5h7M551.5 340v7M551 339.5h7M554.5 336v7M555 344.5h7M558.5 341v7M541 339.5h7M544.5 336v7M552 338.5h7M555.5 335v7M537 346.5h7M540.5 343v7M545 341.5h7M548.5 338v7M548 347.5h7M551.5 344v7M536 338.5h7M539.5 335v7M535 339.5h7M538.5 336v7M545 346.5h7M548.5 343v7M548 342.5h7M551.5 339v7M542 342.5h7M545.5 339v7M539 346.5h7M542.5 343v7M551 346.5h7M554.5 343v7M536 343.5h7M539.5 340v7M550 341.5h7M553.5 338v7M554 346.5h7M557.5 343v7M550 345.5h7M553.5 342v7M548 346.5h7M551.5 343v7M536 344.5h7M539.5 341v7M549 342.5h7M552.5 339v7M539 334.5h7M542.5 331v7M547 345.5h7M550.5 342v7M539 336.5h7M542.5 333v7M538 334.5h7M541.5 331v7M549 348.5h7M552.5 345v7M551 338.5h7M554.5 335v7M549 334.5h7M552.5 331v7M552 338.5h7M555.5 335v7M533 342.5h7M536.5 339v7M536 337.5h7M539.5 334v7M534 340.5h7M537.5 337v7M546 345.5h7M549.5 342v7M534 345.5h7M537.5 342v7M536 336.5h7M539.5 333v7M547 338.5h7M550.5 335v7M541 342.5h7M544.5 339v7M538 345.5h7M541.5 342v7M538 346.5h7M541.5 343v7M552 341.5h7M555.5 338v7M534 345.5h7M537.5 342v7M534 341.5h7M537.5 338v7M543 334.5h7M546.5 331v7M547 344.5h7M550.5 341v7M546 339.5h7M549.5 336v7M545 342.5h7M548.5 339v7M538 346.5h7M541.5 343v7M556 345.5h7M559.5 342v7M555 338.5h7M558.5 335v7M556 334.5h7M559.5 331v7M544 335.5h7M547.5 332v7M543 343.5h7M546.5 340v7M549 340.5h7M552.5 337v7M541 336.5h7M544.5 333v7M542 337.5h7M545.5 334v7M537 344.5h7M540.5 341v7M545 340.5h7M548.5 337v7M538 344.5h7M541.5 341v7M538 337.5h7M541.5 334v7M546 344.5h7M549.5 341v7M555 344.5h7M558.5 341v7M555 347.5h7M558.5 344v7M550 344.5h7M553.5 341v7M534 336.5h7M537.5 333v7M533 346.5h7M536.5 343v7M550 342.5h7M553.5 339v7M539 338.5h7M542.5 335v7M537 342.5h7M540.5 339v7M556 338.5h7M559.5 335v7M534 336.5h7M537.5 333v7M541 346.5h7M544.5 343v7M552 340.5h7M555.5 337v7M535 335.5h7M538.5 332v7M537 345.5h7M540.5 342v7M544 348.5h7M547.5 345v7M554 345.5h7M557.5 342v7M544 345.5h7M547.5 342v7M536 335.5h7M539.5 332v7M546 341.5h7M549.5 338v7M538 337.5h7M541.5 334v7M533 347.5h7M536.5 344v7M549 347.5h7M552.5 344v7M556 340.5h7M559.5 337v7M550 339.5h7M553.5 336v7M552 346.5h7M555.5 343v7M536 333.5h7M539.5 330v7M538 342.5h7M541.5 339v7M542 333.5h7M545.5 330v7M552 345.5h7M555.5 342v7M544 334.5h7M547.5 331v7M553 341.5h7M556.5 338v7M535 338.5h7M538.5 335v7M547 346.5h7M550.5 343v7M544 343.5h7M547.5 340v7M538 337.5h7M541.5 334v7M554 339.5h7M557.5 336v7M535 342.5h7M538.5 339v7M536 336.5h7M539.5 333v7M543 342.5h7M546.5 339v7M548 344.5h7M551.5 341v7M543 334.5h7M546.5 331v7M550 334.5h7M553.5 331v7M544 339.5h7M547.5 336v7M548 344.5h7M551.5 341v7M79 144.5h7M82.5 141v7M80 213.5h7M83.5 210v7M164 109.5h7M167.5 106v7M175 241.5h7M178.5 238v7M486 149.5h7M489.5 146v7M80 312.5h7M83.5 309v7M81 318.5h7M84.5 315v7M79 321.5h7M82.5 318v7M79 325.5h7M82.5 322v7M85 323.5h7M88.5 320v7M92 327.5h7M95.5 324v7M96 328.5h7M99.5 325v7M104 333.5h7M107.5 330v7M118 333.5h7M121.5 330v7M130 334.5h7M133.5 331v7M159 333.5h7M162.5 330v7M175 329.5h7M178.5 326v7M197 329.5h7M200.5 326v7M200 329.5h7M203.5 326v7M208 332.5h7M211.5 329v7M215 336.5h7M218.5 333v7M237 332.5h7M240.5 329v7M244 334.5h7M247.5 331v7M260 340.5h7M263.5 337v7M277 337.5h7M280.5 334v7M299 337.5h7M302.5 334v7M319 337.5h7M322.5 334v7M329 333.5h7M332.5 330v7M343 337.5h7M346.5 334v7M353 339.5h7M356.5 336v7M373 337.5h7M376.5 334v7M379 337.5h7M382.5 334v7M392 337.5h7M395.5 334v7M395 337.5h7M398.5 334v7M403 337.5h7M406.5 334v7M404 337.5h7M407.5 334v7M418 337.5h7M421.5 334v7M430 339.5h7M433.5 336v7M439 340.5h7M442.5 337v7M449 337.5h7M452.5 334v7M460 337.5h7M463.5 334v7M467 339.5h7M470.5 336v7M472 337.5h7M475.5 334v7M480 339.5h7M483.5 336v7M505 337.5h7M508.5 334v7M514 337.5h7M517.5 334v7M520 339.5h7M523.5 336v7M532 326.5h7M535.5 323v7M539 325.5h7M542.5 322v7M544 330.5h7M547.5 327v7M550 328.5h7M553.5 325v7M552 328.5h7M555.5 325v7M82 347.5h7M85.5 344v7M85 356.5h7M88.5 353v7M89 357.5h7M92.5 354v7M94 359.5h7M97.5 356v7M90 354.5h7M93.5 351v7M105 356.5h7M108.5 353v7M113 357.5h7M116.5 354v7M117 359.5h7M120.5 356v7M117 365.5h7M120.5 362v7M125 362.5h7M128.5 359v7M133 357.5h7M136.5 354v7M155 356.5h7M158.5 353v7M157 361.5h7M160.5 358v7M165 355.5h7M168.5 352v7M181 364.5h7M184.5 361v7M185 355.5h7M188.5 352v7M195 352.5h7M198.5 349v7M208 355.5h7M211.5 352v7M207 354.5h7M210.5 351v7M235 357.5h7M238.5 354v7M250 357.5h7M253.5 354v7M270 359.5h7M273.5 356v7M275 364.5h7M278.5 361v7M274 361.5h7M277.5 358v7M380 359.5h7M383.5 356v7M350 363.5h7M353.5 360v7M395 357.5h7M398.5 354v7M400 356.5h7M403.5 353v7M420 360.5h7M423.5 357v7M428 359.5h7M431.5 356v7M459 361.5h7M462.5 358v7M463 359.5h7M466.5 356v7M499 359.5h7M502.5 356v7M499 366.5h7M502.5 363v7M530 354.5h7M533.5 351v7M525 357.5h7M528.5 354v7M531 354.5h7M534.5 351v7M218 367.5h7M221.5 364v7M221 370.5h7M224.5 367v7M217 366.5h7M220.5 363v7M220 369.5h7M223.5 366v7M229 370.5h7M232.5 367v7M228 373.5h7M231.5 370v7M227 369.5h7M230.5 366v7M229 366.5h7M232.5 363v7M229 372.5h7M232.5 369v7M240 371.5h7M243.5 368v7M241 366.5h7M244.5 363v7M244 369.5h7M247.5 366v7M247 364.5h7M250.5 361v7M245 374.5h7M248.5 371v7M254 369.5h7M257.5 366v7M257 369.5h7M260.5 366v7M240 369.5h7M243.5 366v7M243 372.5h7M246.5 369v7M242 375.5h7M245.5 372v7M247 365.5h7M250.5 362v7M248 369.5h7M251.5 366v7M252 370.5h7M255.5 367v7M257 370.5h7M260.5 367v7M258 371.5h7M261.5 368v7M274 371.5h7M277.5 368v7M279 372.5h7M282.5 369v7M287 369.5h7M290.5 366v7M289 371.5h7M292.5 368v7M295 372.5h7M298.5 369v7M304 367.5h7M307.5 364v7M304 374.5h7M307.5 371v7M308 369.5h7M311.5 366v7M310 371.5h7M313.5 368v7M314 367.5h7M317.5 364v7M319 369.5h7M322.5 366v7M325 366.5h7M328.5 363v7M328 372.5h7M331.5 369v7M333 372.5h7M336.5 369v7M340 370.5h7M343.5 367v7M348 371.5h7M351.5 368v7M349 372.5h7M352.5 369v7M349 362.5h7M352.5 359v7M359 368.5h7M362.5 365v7M362 369.5h7M365.5 366v7M368 366.5h7M371.5 363v7M370 372.5h7M373.5 369v7M372 374.5h7M375.5 371v7M376 371.5h7M379.5 368v7M382 372.5h7M385.5 369v7M383 372.5h7M386.5 369v7M390 371.5h7M393.5 368v7M405 364.5h7M408.5 361v7M407 369.5h7M410.5 366v7M412 369.5h7M415.5 366v7M404 371.5h7M407.5 368v7M406 370.5h7M409.5 367v7M414 371.5h7M417.5 368v7M422 370.5h7M425.5 367v7M423 371.5h7M426.5 368v7M429 367.5h7M432.5 364v7M434 370.5h7M437.5 367v7M438 371.5h7M441.5 368v7M441 372.5h7M444.5 369v7M457 365.5h7M460.5 362v7M464 369.5h7M467.5 366v7" stroke="#9400d3" stroke-width="1" fill="none"/>
<path d="M82.5 45.5H612.5V431.5H82.5ZM82 431.5h5M612 431.5h-4M82 381.5h5M612 381.5h-4M82 331.5h5M612 331.5h-4M82 282.5h5M612 282.5h-4M82 232.5h5M612 232.5h-4M82 182.5h5M612 182.5h-4M82 133.5h5M612 133.5h-4M82 83.5h5M612 83.5h-4M82.5 431v-4M82.5 45v5M135.5 431v-4M135.5 45v5M188.5 431v-4M188.5 45v5M241.5 431v-4M241.5 45v5M294.5 431v-4M294.5 45v5M347.5 431v-4M347.5 45v5M400.5 431v-4M400.5 45v5M453.5 431v-4M453.5 45v5M506.5 431v-4M506.5 45v5M559.5 431v-4M559.5 45v5M612.5 431v-4M612.5 45v5" stroke="#000" stroke-width="1" fill="none"/>
<text x="72.6" y="435" text-anchor="end">0</text><text x="72.6" y="385" text-anchor="end">1000</text><text x="72.6" y="335" text-anchor="end">2000</text><text x="72.6" y="286" text-anchor="end">3000</text><text x="72.6" y="236" text-anchor="end">4000</text><text x="72.6" y="186" text-anchor="end">5000</text><text x="72.6" y="137" text-anchor="end">6000</text><text x="72.6" y="87" text-anchor="end">7000</text><text x="83.5" y="450" text-anchor="middle">0</text><text x="136.5" y="450" text-anchor="middle">200</text><text x="189.5" y="450" text-anchor="middle">400</text><text x="242.5" y="450" text-anchor="middle">600</text><text x="295.5" y="450" text-anchor="middle">800</text><text x="348.5" y="450" text-anchor="middle">1000</text><text x="401.5" y="450" text-anchor="middle">1200</text><text x="454.5" y="450" text-anchor="middle">1400</text><text x="507.5" y="450" text-anchor="middle">1600</text><text x="560.5" y="450" text-anchor="middle">1800</text><text x="613.5" y="450" text-anchor="middle">2000</text>
<text y="27"><tspan x="207.07">maxInsertUsecs</tspan><tspan x="325.81">vs</tspan><tspan x="345.72">Time</tspan><tspan x="386.18">for</tspan><tspan x="408.99" letter-spacing="0.13">qp1000.L6</tspan></text>
<text x="347" y="472" text-anchor="middle">Time(s)</text>
<text transform="translate(17 237.85) rotate(-90)" text-anchor="middle" letter-spacing="0.07">maxInsertUsecs</text>
<text x="360" y="60.5">pg1610<tspan x="412.6" font-size="12.8" dy="4">o</tspan><tspan x="420.12" dy="-4">2nofp.cx10a</tspan><tspan x="507.25" font-size="12.8" dy="4">c</tspan><tspan x="513.16" dy="-4">8r32</tspan></text>
<path d="M571 57.5h7M574.5 54v7" stroke="#9400d3" stroke-width="1" fill="none"/>
</svg>
</body></html>
